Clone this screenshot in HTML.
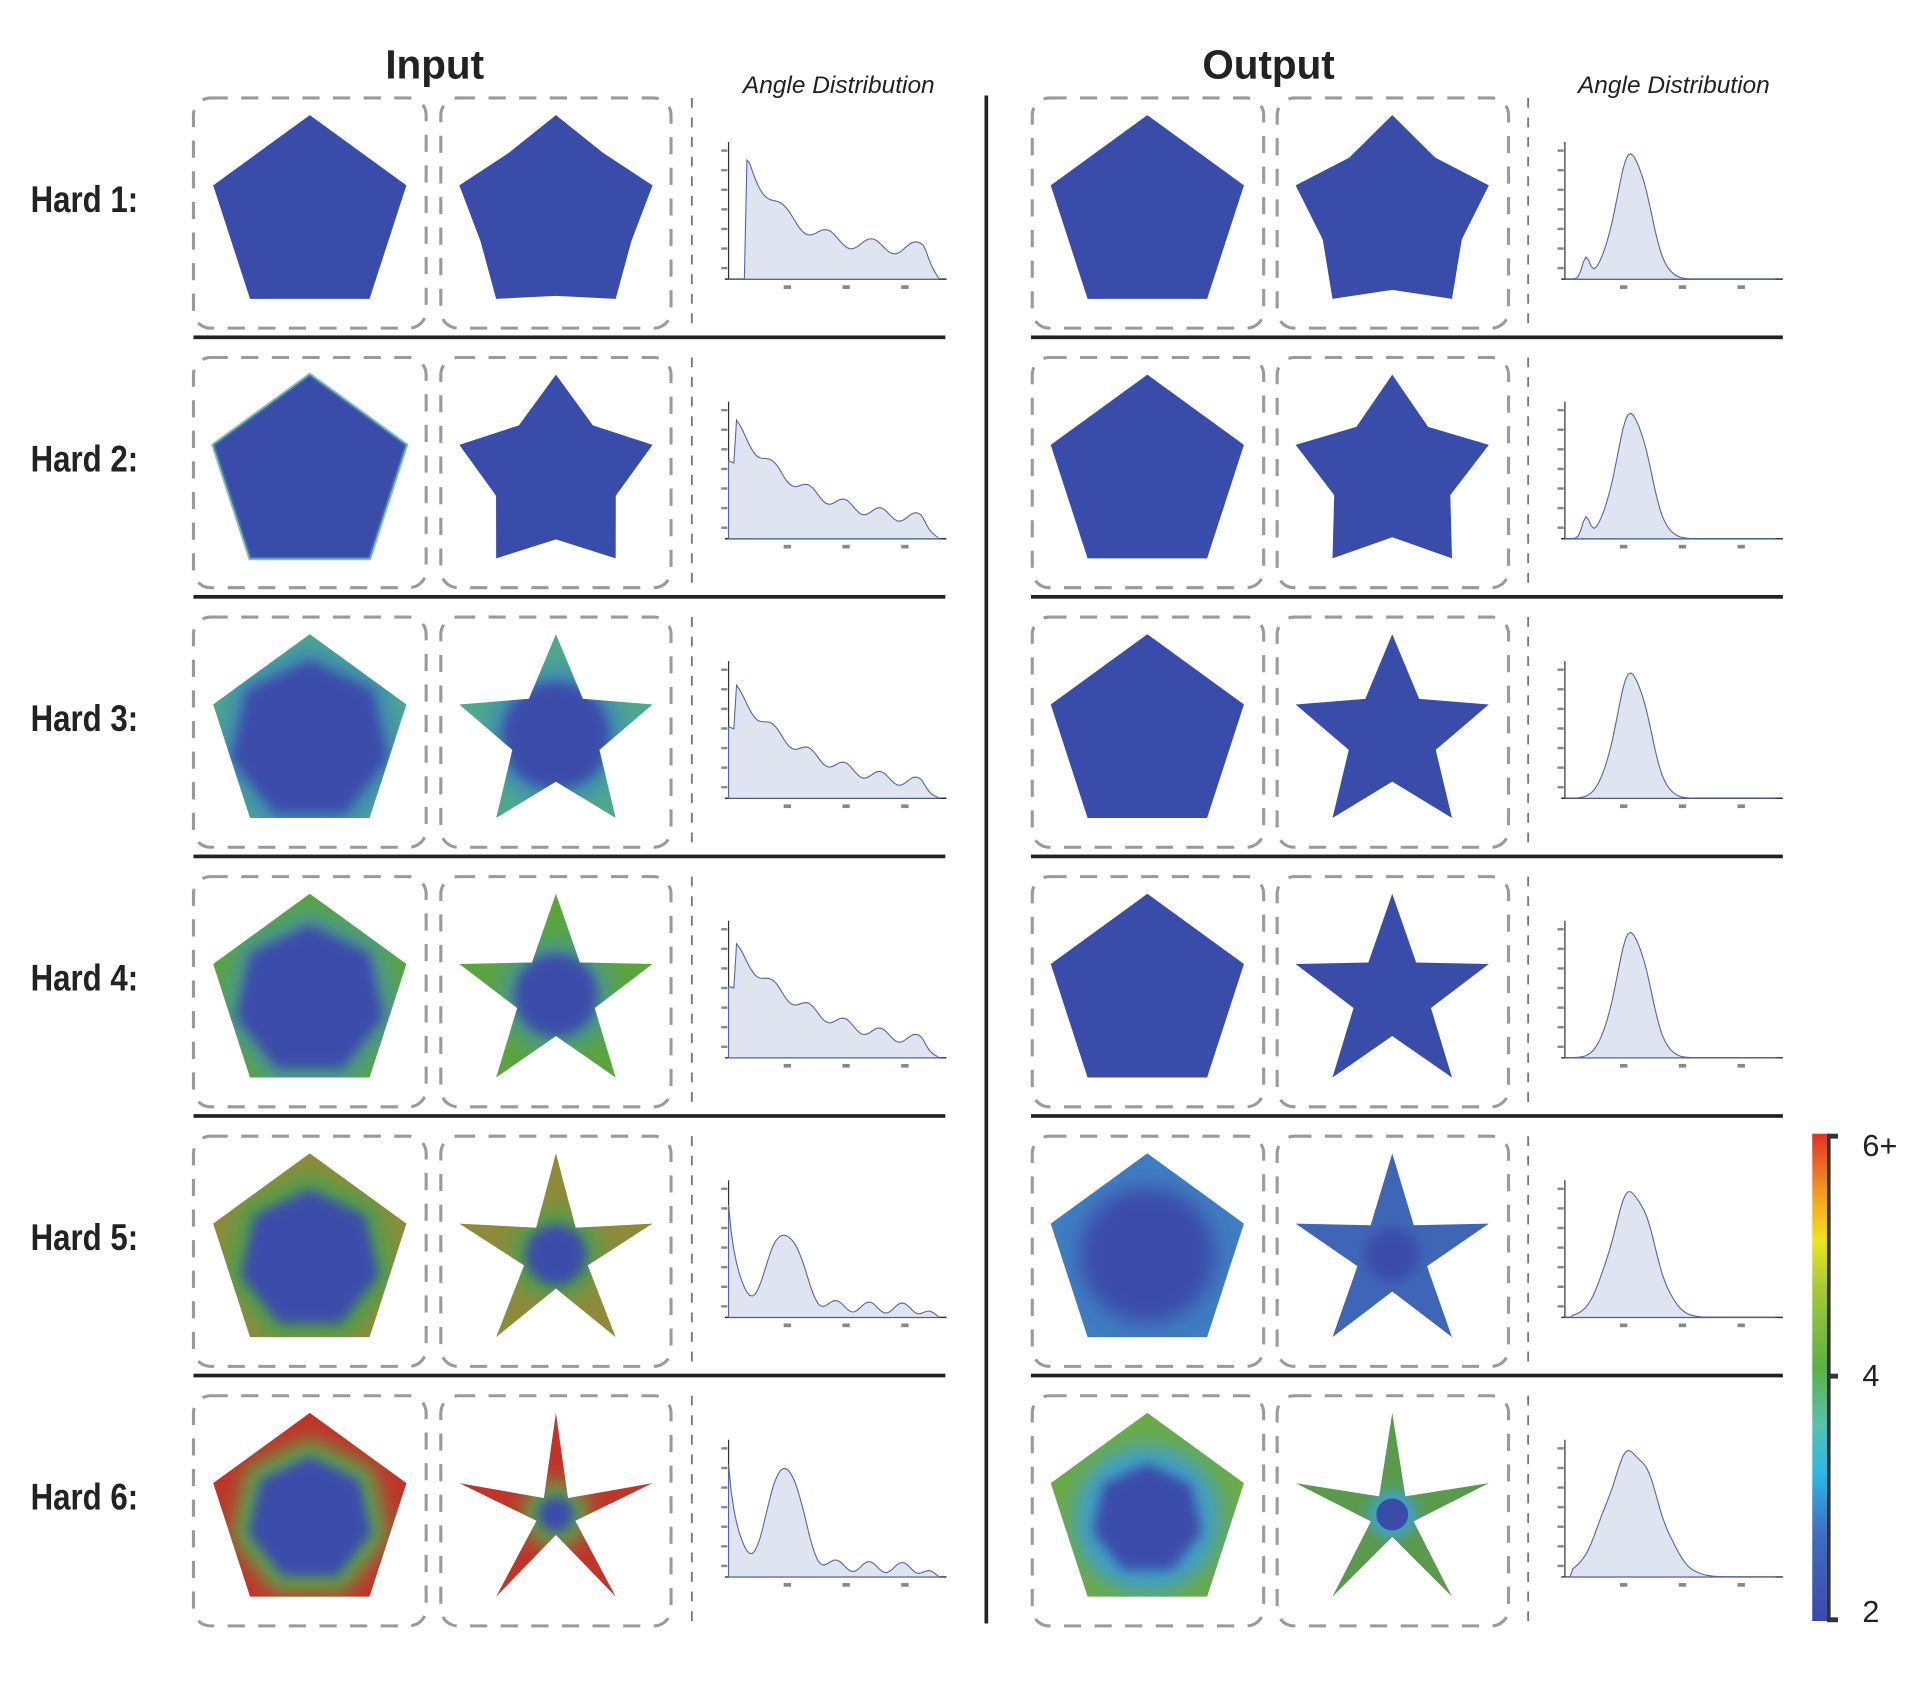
<!DOCTYPE html>
<html><head><meta charset="utf-8"><style>
html,body{margin:0;padding:0;background:#fff;}
svg{display:block;}
</style></head><body>
<svg id="s" width="1920" height="1681" viewBox="0 0 1568 1373" preserveAspectRatio="none" xmlns="http://www.w3.org/2000/svg">
<defs>
<filter id="b3" x="-20%" y="-20%" width="140%" height="140%"><feGaussianBlur stdDeviation="5"/></filter>
<filter id="b6" x="-30%" y="-30%" width="160%" height="160%"><feGaussianBlur stdDeviation="8"/></filter>
<linearGradient id="cb" x1="0" y1="1" x2="0" y2="0">
<stop offset="0" stop-color="#3a4aa8"/><stop offset="0.18" stop-color="#3f6fc0"/><stop offset="0.3" stop-color="#2fb5e6"/><stop offset="0.4" stop-color="#58c2b0"/><stop offset="0.52" stop-color="#5cb144"/><stop offset="0.68" stop-color="#a4c83a"/><stop offset="0.78" stop-color="#f0e41e"/><stop offset="0.88" stop-color="#f39a22"/><stop offset="1" stop-color="#e2302a"/>
</linearGradient>
</defs>
<g id="g"></g>
</svg>
<script>
const g=document.getElementById('g');let h='';
function add(s){h+=s;}
const F='font-family="Liberation Sans, sans-serif"';
add(`<text x="355" y="64" ${F} font-weight="bold" font-size="33" text-anchor="middle" fill="#222">Input</text>`);
add(`<text x="1036" y="64" ${F} font-weight="bold" font-size="33" text-anchor="middle" fill="#222">Output</text>`);
add(`<text x="685" y="76" ${F} font-style="italic" font-size="20" text-anchor="middle" fill="#222">Angle Distribution</text>`);
add(`<text x="1367" y="76" ${F} font-style="italic" font-size="20" text-anchor="middle" fill="#222">Angle Distribution</text>`);
add(`<rect x="804" y="78" width="3" height="1248" fill="#222"/>`);
add(`<rect x="1480" y="926" width="12" height="398" fill="url(#cb)"/>`);
add(`<rect x="1492" y="926" width="3" height="398" fill="#333"/>`);
[[926,'6+'],[1122,'4'],[1321,'2']].forEach(([y,t])=>{add(`<rect x="1492" y="${y}" width="9" height="4" fill="#333"/><text x="1521" y="${y+(t=='6+'?18:(t=='2'?4:10))}" ${F} font-size="25" fill="#222">${t}</text>`);});
const rIn=[0.78,0.62,0.45,0.40,0.33,0.2];
const rOut=[0.72,0.6,0.45,0.40,0.36,0.22];
function pts(cx,cy,R,n,rr){let p=[];for(let i=0;i<n*(rr?2:1);i++){let a=-Math.PI/2+i*Math.PI*2/(n*(rr?2:1));let r=(rr&&i%2)?R*rr:R;p.push((cx+r*Math.cos(a)).toFixed(1)+','+(cy+r*Math.sin(a)).toFixed(1));}return p.join(' ');}
const inCol=[null,null,['#4fa88a','#3f8fb0',66,44],['#5aa43e','#4a9a8a',62,34],['#8e8a3a','#4fa04a',58,25],['#c0342a','#5aa848',52,15]];
function hist(x0,y0,type,k){
 add(`<line x1="${x0}" y1="${y0}" x2="${x0}" y2="${y0-112}" stroke="#333" stroke-width="1"/>`);
 add(`<line x1="${x0-3}" y1="${y0}" x2="${x0+178}" y2="${y0}" stroke="#333" stroke-width="1.2"/>`);
 for(let i=0;i<7;i++)add(`<rect x="${x0-6}" y="${y0-106+i*16}" width="5" height="2" fill="#888"/>`);
 for(let i=0;i<3;i++)add(`<rect x="${x0+45+i*48}" y="${y0+5}" width="6" height="3" fill="#888"/>`);
 let p=[];
 for(let i=0;i<=80;i++){let t=i/80,v;
  if(type=='in'){
   if(k==0){v=t<0.08?0:(t<0.1?0.9:0.65*Math.exp(-(t-0.1)*5)+0.22+0.05*Math.sin(t*30));if(t>0.93)v*=Math.max(0,(1-t)/0.07);}
   else if(k<4){let s=t<0.03?0.6:1;v=s*(0.85*Math.exp(-t*(3.3-k*0.25))+0.05+0.04*Math.sin(t*37));if(k==1)v+=0.05;if(t>0.92)v*=Math.max(0,(1-t)/0.08);}
   else{let a=k==4?0.55:0.75;v=0.7*Math.exp(-t*30)+a*Math.exp(-Math.pow((t-0.27)/0.1,2))*(1)+0.1*Math.exp(-t*2)+0.04*Math.sin(t*40)+0.05;if(t>0.92)v*=Math.max(0,(1-t)/0.08);v=Math.min(v,0.95);}
  } else {
   let c=0.32,w=k>=4?0.14:0.11;if(k==5)w=0.17;
   v=Math.exp(-Math.pow((t-c)/w,2))*0.95+(k<2?0.15*Math.exp(-Math.pow((t-0.1)/0.025,2)):0);
   if(t<0.03)v=0;v+=0.03*Math.sin(t*50)*Math.exp(-Math.pow((t-c)/w,2));
  }
  v=Math.max(0,v);p.push((x0+t*172).toFixed(1)+','+(y0-v*108).toFixed(1));}
 add(`<polygon points="${x0},${y0} ${p.join(' ')} ${x0+172},${y0}" fill="#dfe4f1" stroke="#5866a0" stroke-width="0.9"/>`);
}
for(let k=0;k<6;k++){
 const oy=212*k, top=80+oy, cy=177+oy;
 add(`<text x="25" y="${cy-4}" font-family="Liberation Sans Narrow, Liberation Sans, sans-serif" font-weight="bold" font-size="30" fill="#222" transform="translate(25 ${cy-4}) scale(0.85 1) translate(-25 ${-(cy-4)})">Hard ${k+1}:</text>`);
 if(k<5){add(`<rect x="158" y="${274+oy}" width="614" height="3" fill="#222"/><rect x="842" y="${274+oy}" width="614" height="3" fill="#222"/>`);}
 [[158,348],[360,548],[843,1032],[1043,1232]].forEach(([a,b])=>{
  add(`<rect x="${a}" y="${top}" width="${b-a}" height="188" rx="14" fill="none" stroke="#9a9a9a" stroke-width="2.5" stroke-dasharray="14 11"/>`);
 });
 [565,1248].forEach(x=>add(`<line x1="${x}" y1="${top}" x2="${x}" y2="${top+188}" stroke="#777" stroke-width="1.5" stroke-dasharray="8 8"/>`));
 const blue='#3a4caa';
 const c=inCol[k];
 if(!c){
  add(`<polygon points="${pts(253,cy,83,5)}" fill="${blue}"/>`);
  add(`<polygon points="${pts(454,cy,83,5,rIn[k])}" fill="${blue}"/>`);
  if(k==1){add(`<polygon points="${pts(253,cy,83,5)}" fill="none" stroke="#3f8f9a" stroke-width="3" opacity="0.6"/>`);}
 } else {
  let id='cp'+k;
  add(`<clipPath id="${id}a"><polygon points="${pts(253,cy,83,5)}"/></clipPath><clipPath id="${id}b"><polygon points="${pts(454,cy,83,5,rIn[k])}"/></clipPath>`);
  add(`<g clip-path="url(#${id}a)"><rect x="160" y="${cy-90}" width="190" height="180" fill="${c[0]}"/><polygon points="${pts(253,cy+4,c[2]+14,7)}" fill="${c[1]}" filter="url(#b6)"/><polygon points="${pts(253,cy+4,c[2],7)}" fill="${blue}" filter="url(#b3)"/></g>`);
  add(`<g clip-path="url(#${id}b)"><rect x="360" y="${cy-90}" width="190" height="180" fill="${c[0]}"/><circle cx="454" cy="${cy}" r="${c[3]+12}" fill="${c[1]}" filter="url(#b6)"/><circle cx="454" cy="${cy}" r="${c[3]}" fill="${blue}" filter="url(#b3)"/></g>`);
 }
 if(k<4){
  add(`<polygon points="${pts(937,cy,83,5)}" fill="${blue}"/>`);
  add(`<polygon points="${pts(1137,cy,83,5,rOut[k])}" fill="${blue}"/>`);
 } else if(k==4){
  add(`<clipPath id="o4a"><polygon points="${pts(937,cy,83,5)}"/></clipPath>`);
  add(`<g clip-path="url(#o4a)"><rect x="850" y="${cy-90}" width="190" height="180" fill="#3f7cc0"/><circle cx="937" cy="${cy}" r="55" fill="${blue}" filter="url(#b6)"/></g>`);
  add(`<polygon points="${pts(1137,cy,83,5,rOut[k])}" fill="#3f66b6"/><circle cx="1137" cy="${cy}" r="22" fill="${blue}" filter="url(#b3)"/>`);
 } else {
  add(`<clipPath id="o5a"><polygon points="${pts(937,cy,83,5)}"/></clipPath><clipPath id="o5b"><polygon points="${pts(1137,cy,83,5,rOut[k])}"/></clipPath>`);
  add(`<g clip-path="url(#o5a)"><rect x="850" y="${cy-90}" width="190" height="180" fill="#6aaa4a"/><circle cx="937" cy="${cy+4}" r="60" fill="#3fa0c8" filter="url(#b6)"/><polygon points="${pts(937,cy+4,46,7)}" fill="${blue}" filter="url(#b3)"/></g>`);
  add(`<g clip-path="url(#o5b)"><rect x="1040" y="${cy-90}" width="190" height="180" fill="#5a9a4c"/><circle cx="1137" cy="${cy}" r="20" fill="#3fa0c8" filter="url(#b3)"/><circle cx="1137" cy="${cy}" r="13" fill="${blue}"/></g>`);
 }
 hist(595,228+oy,'in',k);
 hist(1278,228+oy,'out',k);
}
g.innerHTML=h;
</script>
</body></html>
